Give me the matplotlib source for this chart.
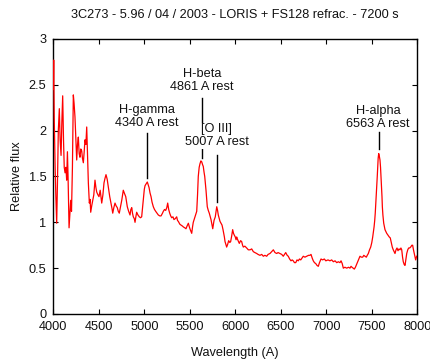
import matplotlib
matplotlib.use("Agg")
import matplotlib.pyplot as plt

plt.rcParams['font.family'] = ['Liberation Sans', 'DejaVu Sans']

# spectrum of 3C273 (wavelength in A, relative flux)
wavelength = [
    4000, 4004, 4010, 4020, 4028, 4037, 4045, 4055, 4066, 4075, 4085, 4094, 4103, 4112,
    4120, 4129, 4138, 4147, 4155, 4162, 4168, 4173, 4180, 4191, 4200, 4210, 4220, 4228,
    4238, 4248, 4257, 4266, 4275, 4284, 4293, 4302, 4312, 4320, 4330, 4340, 4348, 4358,
    4367, 4374, 4385, 4396, 4404, 4411, 4422, 4433, 4445, 4458, 4468, 4477, 4490, 4502,
    4515, 4532, 4545, 4557, 4568, 4579, 4592, 4604, 4620, 4634, 4645, 4653, 4665, 4678,
    4690, 4703, 4714, 4725, 4740, 4752, 4761, 4769, 4780, 4796, 4805, 4813, 4828, 4843,
    4852, 4862, 4870, 4879, 4890, 4898, 4907, 4916, 4930, 4945, 4958, 4971, 4980, 4989,
    5000, 5008, 5020, 5033, 5042, 5052, 5063, 5074, 5085, 5099, 5112, 5125, 5140, 5154,
    5170, 5184, 5200, 5209, 5222, 5235, 5247, 5257, 5268, 5279, 5290, 5301, 5315, 5326,
    5340, 5356, 5365, 5374, 5390, 5403, 5418, 5429, 5445, 5458, 5470, 5484, 5495, 5505,
    5521, 5530, 5538, 5557, 5576, 5585, 5593, 5603, 5612, 5622, 5631, 5640, 5648, 5656,
    5664, 5678, 5692, 5703, 5714, 5733, 5742, 5752, 5760, 5766, 5780, 5796, 5805, 5813,
    5832, 5854, 5865, 5880, 5887, 5905, 5916, 5927, 5940, 5949, 5960, 5971, 5980, 5989,
    6000, 6008, 6015, 6022, 6035, 6044, 6058, 6070, 6080, 6088, 6105, 6125, 6143, 6162,
    6180, 6198, 6215, 6235, 6250, 6271, 6290, 6308, 6325, 6345, 6360, 6381, 6400, 6418,
    6436, 6455, 6470, 6491, 6510, 6527, 6540, 6554, 6570, 6582, 6597, 6612, 6625, 6637,
    6650, 6664, 6678, 6692, 6705, 6719, 6733, 6747, 6765, 6785, 6805, 6820, 6832, 6845,
    6857, 6870, 6884, 6898, 6912, 6925, 6942, 6960, 6978, 6995, 7019, 7040, 7059, 7078,
    7096, 7115, 7132, 7150, 7162, 7175, 7187, 7205, 7224, 7245, 7260, 7272, 7282, 7295,
    7308, 7320, 7337, 7350, 7370, 7385, 7400, 7412, 7425, 7440, 7450, 7462, 7475, 7488,
    7500, 7510, 7518, 7525, 7532, 7538, 7542, 7546, 7550, 7554, 7560, 7565, 7570, 7576,
    7583, 7590, 7596, 7601, 7606, 7612, 7616, 7622, 7631, 7645, 7655, 7664, 7678, 7692,
    7703, 7714, 7725, 7736, 7745, 7755, 7766, 7777, 7788, 7799, 7810, 7820, 7829, 7838,
    7846, 7856, 7865, 7875, 7884, 7895, 7905, 7916, 7927, 7940, 7949, 7958, 7967, 7975,
    7982, 7993,
]
flux = [
    2.45, 2.77, 2.14, 1.60, 1.28, 0.99, 1.40, 2.00, 2.24, 1.90, 1.73, 2.10, 2.38, 1.90,
    1.60, 1.54, 1.60, 1.46, 1.77, 1.50, 1.20, 0.94, 1.05, 1.24, 1.12, 1.60, 2.39, 2.30,
    2.15, 1.90, 1.68, 1.85, 1.93, 1.75, 1.71, 1.80, 1.78, 1.70, 1.65, 1.78, 1.90, 1.85,
    2.04, 1.80, 1.43, 1.21, 1.25, 1.11, 1.18, 1.24, 1.30, 1.46, 1.38, 1.33, 1.30, 1.28,
    1.35, 1.21, 1.30, 1.43, 1.48, 1.52, 1.47, 1.39, 1.28, 1.21, 1.15, 1.10, 1.16, 1.21,
    1.18, 1.16, 1.12, 1.10, 1.18, 1.24, 1.30, 1.35, 1.32, 1.28, 1.22, 1.17, 1.12, 1.08,
    1.14, 1.16, 1.10, 1.06, 1.04, 1.00, 1.06, 1.11, 1.08, 1.06, 1.05, 1.06, 1.15, 1.24,
    1.36, 1.40, 1.42, 1.44, 1.41, 1.38, 1.32, 1.28, 1.22, 1.17, 1.14, 1.12, 1.10, 1.08,
    1.07, 1.07, 1.10, 1.12, 1.14, 1.13, 1.16, 1.21, 1.14, 1.10, 1.07, 1.05, 1.06, 1.03,
    1.04, 1.06, 1.02, 1.01, 0.98, 0.97, 0.96, 0.95, 0.94, 0.93, 0.96, 0.99, 0.95, 0.92,
    0.88, 0.95, 1.00, 1.06, 1.12, 1.30, 1.50, 1.60, 1.64, 1.67, 1.66, 1.63, 1.61, 1.55,
    1.50, 1.35, 1.17, 1.13, 1.10, 1.03, 0.98, 0.93, 0.98, 1.02, 1.06, 1.17, 1.13, 1.08,
    1.01, 0.97, 0.92, 0.84, 0.79, 0.73, 0.76, 0.80, 0.78, 0.79, 0.85, 0.92, 0.88, 0.86,
    0.84, 0.81, 0.84, 0.82, 0.79, 0.77, 0.80, 0.79, 0.75, 0.73, 0.74, 0.72, 0.70, 0.70,
    0.71, 0.68, 0.67, 0.66, 0.65, 0.64, 0.65, 0.63, 0.64, 0.63, 0.65, 0.66, 0.68, 0.70,
    0.67, 0.66, 0.67, 0.66, 0.65, 0.63, 0.65, 0.67, 0.64, 0.63, 0.60, 0.58, 0.59, 0.58,
    0.56, 0.56, 0.59, 0.58, 0.60, 0.59, 0.61, 0.63, 0.62, 0.63, 0.64, 0.64, 0.65, 0.61,
    0.58, 0.56, 0.55, 0.53, 0.52, 0.56, 0.60, 0.59, 0.60, 0.58, 0.59, 0.58, 0.59, 0.57,
    0.58, 0.56, 0.57, 0.56, 0.58, 0.55, 0.50, 0.51, 0.50, 0.51, 0.50, 0.52, 0.51, 0.50,
    0.49, 0.51, 0.55, 0.58, 0.63, 0.62, 0.62, 0.64, 0.63, 0.62, 0.64, 0.66, 0.70, 0.73,
    0.78, 0.84, 0.90, 0.95, 1.02, 1.10, 1.17, 1.24, 1.31, 1.39, 1.50, 1.61, 1.70, 1.75,
    1.72, 1.68, 1.60, 1.50, 1.39, 1.28, 1.17, 1.08, 0.99, 0.92, 0.90, 0.88, 0.86, 0.84,
    0.83, 0.78, 0.73, 0.70, 0.68, 0.66, 0.70, 0.72, 0.69, 0.71, 0.70, 0.72, 0.70, 0.62,
    0.57, 0.54, 0.53, 0.60, 0.66, 0.70, 0.72, 0.72, 0.73, 0.75, 0.75, 0.70, 0.66, 0.62,
    0.59, 0.63,
]

# identified emission lines: label, observed position, top and bottom of the marker
line_labels = ["H-gamma\n4340 A rest", "H-beta\n4861 A rest",
               "[O III]\n5007 A rest", "H-alpha\n6563 A rest"]
line_wave = [5033, 5631, 5800, 7579]
marker_top = [1.97, 2.36, 1.73, 1.99]
marker_bottom = [1.48, 1.70, 1.225, 1.80]
label_x = [5026, 5631, 5793, 7568]
label_y = [2.155, 2.55, 1.945, 2.14]

fs = 9.2

fig = plt.figure(figsize=(4.31, 3.6), dpi=100)
ax = fig.add_axes([0.1237, 0.1278, 0.8445, 0.7639])

ax.plot(wavelength, flux, color='#ff0000', linewidth=0.9, zorder=3)

for i in range(len(line_labels)):
    ax.plot([line_wave[i], line_wave[i]], [marker_bottom[i], marker_top[i]],
            color='black', linewidth=1, zorder=2)
    ax.text(label_x[i], label_y[i], line_labels[i], ha='center', va='center',
            fontsize=fs, color='#111111', linespacing=1.1, zorder=4,
            bbox=dict(facecolor='white', edgecolor='none', pad=0.5))

ax.set_xlim(4000, 8000)
ax.set_ylim(0, 3)
ax.set_xticks(range(4000, 8001, 500))
ax.set_yticks([0, 0.5, 1, 1.5, 2, 2.5, 3])
ax.set_yticklabels(['0', '0.5', '1', '1.5', '2', '2.5', '3'])
ax.tick_params(direction='in', length=3.5, width=0.8, top=True, right=True,
               labelsize=fs, pad=5, colors='black', labelcolor='#111111')
for s in ax.spines.values():
    s.set_linewidth(1)

ax.set_xlabel('Wavelength (A)', fontsize=fs, color='#111111', labelpad=10)
ax.set_ylabel('Relative flux', fontsize=fs, color='#111111', labelpad=4)
ax.set_title('3C273 - 5.96 / 04 / 2003 - LORIS + FS128 refrac. - 7200 s',
             fontsize=fs, color='#111111', pad=15)

fig.savefig('out.png', dpi=100)
